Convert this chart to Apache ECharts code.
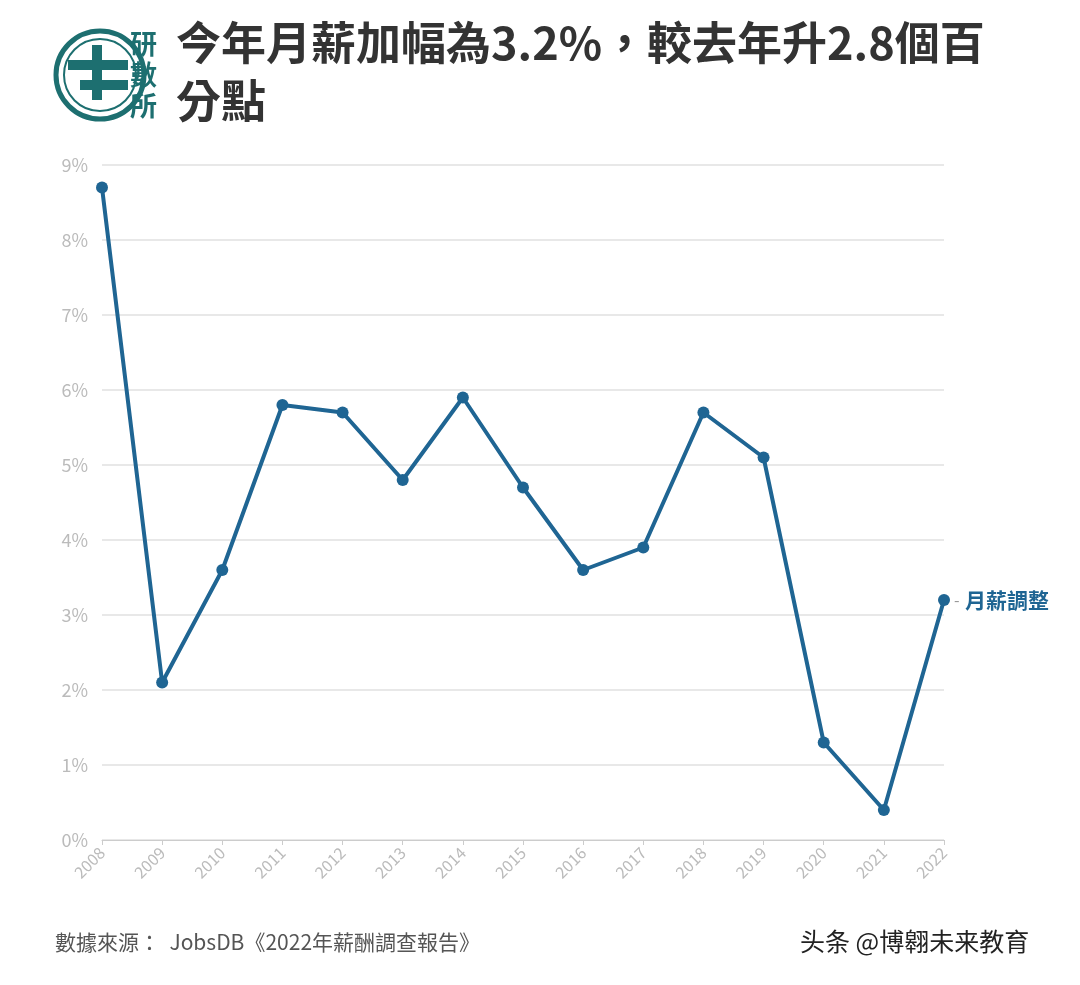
<!DOCTYPE html>
<html><head><meta charset="utf-8">
<script src="https://cdn.jsdelivr.net/npm/echarts@6/dist/echarts.min.js"></script>
<style>html,body{margin:0;background:#fff}#c{width:1080px;height:985px}</style>
</head><body><div id="c"></div>
<script>
const years = ['2008','2009','2010','2011','2012','2013','2014','2015','2016','2017','2018','2019','2020','2021','2022'];
const raise = [8.7, 2.1, 3.6, 5.8, 5.7, 4.8, 5.9, 4.7, 3.6, 3.9, 5.7, 5.1, 1.3, 0.4, 3.2];
const seriesName = '月薪調整';
const blue = '#1f6593';
const teal = '#1d6f70';

let chart = echarts.init(document.getElementById('c'));
chart.setOption({
	textStyle: { fontFamily: 'Noto Sans CJK TC' },
	grid: { left: 102, right: 136, top: 165, bottom: 145 },
	xAxis: {
		type: 'category', data: years, boundaryGap: false,
		axisLine: { lineStyle: { color: '#ccc' } },
		axisTick: { show: true, lineStyle: { color: '#ccc' } },
		axisLabel: { rotate: 45, color: '#bbb', fontSize: 16, margin: 10 }
	},
	yAxis: {
		type: 'value', min: 0, max: 9, interval: 1,
		axisLabel: { formatter: '{value}%', color: '#bbb', fontSize: 18, margin: 14 },
		splitLine: { lineStyle: { color: '#e8e8e8', width: 2 } }
	},
	series: [{
		name: seriesName, type: 'line', data: raise,
		color: blue, lineStyle: { width: 4 },
		symbol: 'circle', symbolSize: 12,
		endLabel: {
			show: true, distance: 10,
			formatter: '{d|-}  {n|' + seriesName + '}',
			rich: { d: { color: '#999', fontSize: 16 }, n: { color: blue, fontSize: 21, fontWeight: 'bold' } }
		}
	}],
	graphic: [
		{ type: 'circle', shape: { cx: 100, cy: 75, r: 44 }, style: { fill: 'none', stroke: teal, lineWidth: 5 } },
		{ type: 'circle', shape: { cx: 100, cy: 75, r: 36 }, style: { fill: 'none', stroke: teal, lineWidth: 2 } },
		{ type: 'rect', shape: { x: 68, y: 60, width: 60, height: 10 }, style: { fill: teal } },
		{ type: 'rect', shape: { x: 80, y: 80, width: 48, height: 10 }, style: { fill: teal } },
		{ type: 'rect', shape: { x: 92, y: 45, width: 10, height: 55 }, style: { fill: teal } },
		{ type: 'text', left: 130, top: 28, style: { text: '研\n數\n所', fill: teal, fontSize: 27, lineHeight: 31, fontWeight: 'bold', fontFamily: 'Noto Sans CJK TC' } },
		{ type: 'text', left: 176, top: 14, style: { text: '今年月薪加幅為3.2%，較去年升2.8個百\n分點', fill: '#333', fontSize: 45, lineHeight: 58, fontWeight: 'bold', fontFamily: 'Noto Sans CJK TC' } },
		{ type: 'text', left: 55, top: 932, style: { text: '數據來源：  JobsDB《2022年薪酬調查報告》', fill: '#555', fontSize: 21, fontFamily: 'Noto Sans CJK TC' } },
		{ type: 'text', left: 800, top: 929, style: { text: '头条 @博翱未来教育', fill: '#222', fontSize: 25, fontFamily: 'Noto Sans CJK SC' } }
	]
});
</script></body></html>
